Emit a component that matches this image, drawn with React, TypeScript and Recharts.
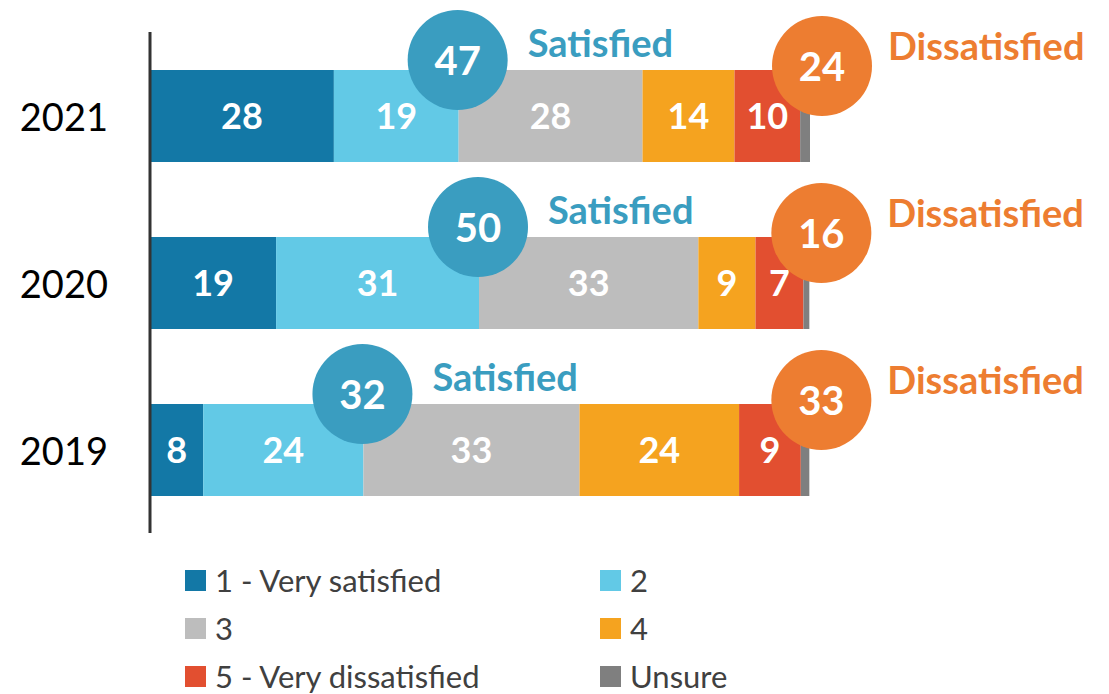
import { BarChart, Bar, XAxis, YAxis, LabelList, Legend } from 'recharts'

const CATEGORIES = ['2021', '2020', '2019']
const VERY_SATISFIED = [28, 19.2, 8.1]
const SCORE_2 = [19, 30.9, 24.4]
const SCORE_3 = [28, 33.4, 32.9]
const SCORE_4 = [14, 8.7, 24.3]
const VERY_DISSATISFIED = [10, 7.3, 9.4]
const UNSURE = [1.5, 0.9, 1.3]
const SATISFIED_TOTAL = [47, 50, 32]
const DISSATISFIED_TOTAL = [24, 16, 33]

const FONT = 'Lato, "Open Sans", sans-serif'
const SAT_COLOR = '#3A9DC0'
const DISSAT_COLOR = '#ED7D31'

const SERIES = [
  { key: 's1', name: '1 - Very satisfied', color: '#1378A6', values: VERY_SATISFIED },
  { key: 's2', name: '2', color: '#62C9E6', values: SCORE_2 },
  { key: 's3', name: '3', color: '#BDBDBD', values: SCORE_3 },
  { key: 's4', name: '4', color: '#F5A31F', values: SCORE_4 },
  { key: 's5', name: '5 - Very dissatisfied', color: '#E24F30', values: VERY_DISSATISFIED },
  { key: 'unsure', name: 'Unsure', color: '#7F7F7F', values: UNSURE },
]

const data = CATEGORIES.map((year, i) => {
  const row: Record<string, any> = { year }
  SERIES.forEach((s) => (row[s.key] = s.values[i]))
  return row
})

const YearTick = (props: any) => {
  const { x, y, payload } = props
  return (
    <text x={x - 34} y={y} textAnchor="end" dominantBaseline="central" fontSize={38} fill="#000" fontFamily={FONT}>
      {payload.value}
    </text>
  )
}

// bubbles sit on the last series so they paint above every segment
const Bubbles = (props: any) => {
  const vb = props.viewBox ?? props
  const { x, y, width } = vb
  const i = props.index
  const ppu = width / UNSURE[i]
  const end = x + width
  const satX = x - (SCORE_3[i] + SCORE_4[i] + VERY_DISSATISFIED[i]) * ppu
  return (
    <g fontFamily={FONT} fontWeight={700}>
      <circle cx={satX - 1} cy={y - 10} r={50} fill={SAT_COLOR} />
      <text x={satX - 1} y={y - 10} textAnchor="middle" dominantBaseline="central" fill="#fff" fontSize={40}>
        {SATISFIED_TOTAL[i]}
      </text>
      <text x={satX + 69} y={y - 28} dominantBaseline="central" fill={SAT_COLOR} fontSize={38}>
        Satisfied
      </text>
      <circle cx={end + 12} cy={y - 4} r={50} fill={DISSAT_COLOR} />
      <text x={end + 12} y={y - 4} textAnchor="middle" dominantBaseline="central" fill="#fff" fontSize={40}>
        {DISSATISFIED_TOTAL[i]}
      </text>
      <text x={end + 78} y={y - 25} dominantBaseline="central" fill={DISSAT_COLOR} fontSize={38}>
        Dissatisfied
      </text>
    </g>
  )
}

const LegendBox = () => (
  <div style={{ display: 'grid', gridTemplateColumns: '415px 200px', rowGap: 20, fontFamily: FONT, fontSize: 31, lineHeight: '28px', color: '#404040' }}>
    {SERIES.map((s) => (
      <div key={s.key} style={{ display: 'flex', alignItems: 'center', height: 28, whiteSpace: 'nowrap' }}>
        <span style={{ width: 21, height: 21, background: s.color, marginRight: 9, display: 'inline-block' }} />
        {s.name}
      </div>
    ))}
  </div>
)

export default function App() {
  return (
    <div style={{ position: 'absolute', left: 0, top: 0, width: 1109, height: 694, background: '#fff' }}>
      <BarChart width={1109} height={694} data={data} layout="vertical" margin={{ top: 32, right: 299, bottom: 161, left: 0 }}>
        <XAxis type="number" domain={[0, 100.5]} hide />
        <YAxis
          type="category"
          dataKey="year"
          width={150}
          tickLine={false}
          axisLine={{ stroke: '#333', strokeWidth: 3 }}
          tick={<YearTick />}
        />
        {SERIES.map((s) => (
          <Bar key={s.key} dataKey={s.key} name={s.name} stackId="a" fill={s.color} barSize={92} isAnimationActive={false}>
            {s.key !== 'unsure' && (
              <LabelList
                dataKey={s.key}
                position="center"
                formatter={(v: any) => Math.round(Number(v))}
                fill="#fff"
                fontSize={36}
                fontWeight={700}
                fontFamily={FONT}
              />
            )}
            {s.key === 'unsure' && <LabelList dataKey={s.key} content={<Bubbles />} />}
          </Bar>
        ))}
        <Legend
          layout="vertical"
          align="center"
          verticalAlign="middle"
          content={<LegendBox />}
          wrapperStyle={{ left: 185, top: 566, width: 700, height: 126 }}
        />
      </BarChart>
    </div>
  )
}
